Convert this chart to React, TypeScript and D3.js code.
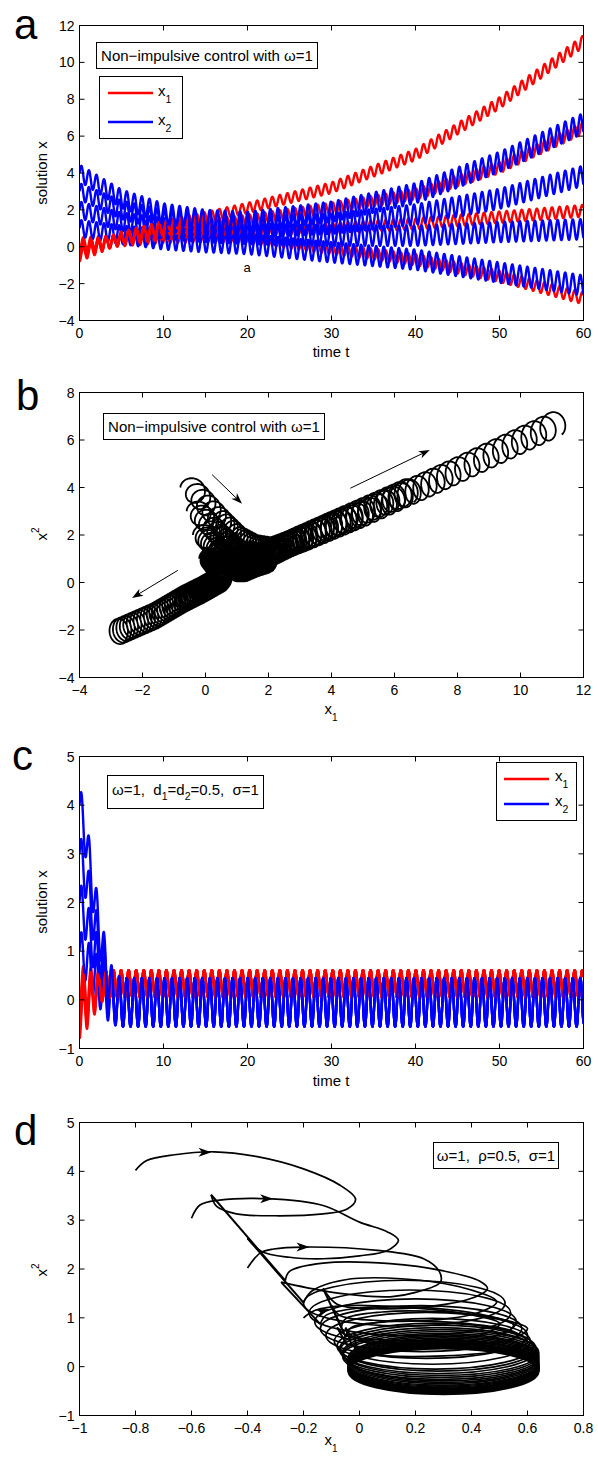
import React from "react";
import * as d3 from "d3";

const FONT = "'Liberation Sans', Arial, Helvetica, sans-serif";
const RED = "#ff0000";
const BLUE = "#0000ff";
const TICK_FS = 14;
const LABEL_FS = 15;
const BOX_FS = 15;

// ---------------- panels a & b : four trajectories (non-impulsive control) ----------------
const abTimes = [0, 5, 10, 15, 20, 30, 40, 50, 60];
const abX1Centres = [
  [-0.45, 0.5, 1.1, 1.6, 2.1, 3.2, 5.0, 7.8, 11.15],
  [-0.25, 0.45, 0.9, 1.2, 1.45, 2.1, 2.85, 4.3, 6.45],
  [-0.05, 0.4, 0.7, 0.85, 0.95, 1.0, 1.25, 1.6, 1.95],
  [0.15, 0.35, 0.5, 0.55, 0.5, -0.1, -0.7, -1.6, -2.8],
];
const abX2Centres = [
  [4.0, 2.6, 1.8, 1.45, 1.35, 1.9, 2.9, 4.6, 6.7],
  [3.0, 2.0, 1.45, 1.15, 1.05, 1.25, 1.75, 2.6, 3.85],
  [2.0, 1.35, 1.0, 0.8, 0.7, 0.6, 0.6, 0.8, 0.95],
  [1.0, 0.65, 0.4, 0.25, 0.15, -0.3, -0.7, -1.4, -2.1],
];
const abAmpTimes = [0, 10, 20, 60];
const abX1Amp = [0.35, 0.3, 0.28, 0.32];
const abX2Amp = [0.45, 0.55, 0.55, 0.55];
const oscPeriod = 0.9;

// ---------------- panel c : impulsive control, time series ----------------
const cTimes = [0, 0.5, 1, 1.5, 2, 2.5, 3, 3.5, 4, 5, 60];
const cX1Centres = [
  [-0.35, -0.25, -0.12, 0.0, 0.12, 0.22, 0.29, 0.32, 0.33, 0.33, 0.33],
  [-0.15, -0.08, 0.0, 0.08, 0.17, 0.24, 0.3, 0.32, 0.33, 0.33, 0.33],
  [0.05, 0.08, 0.12, 0.17, 0.22, 0.27, 0.3, 0.32, 0.33, 0.33, 0.33],
  [0.25, 0.24, 0.24, 0.25, 0.27, 0.29, 0.31, 0.32, 0.33, 0.33, 0.33],
];
const cX2Centres = [
  [4.0, 3.6, 3.05, 2.4, 1.8, 1.3, 0.8, 0.4, 0.1, -0.05, -0.05],
  [3.0, 2.7, 2.3, 1.8, 1.35, 0.95, 0.6, 0.3, 0.08, -0.05, -0.05],
  [2.0, 1.8, 1.5, 1.2, 0.9, 0.6, 0.35, 0.15, 0.0, -0.05, -0.05],
  [1.0, 0.9, 0.75, 0.6, 0.45, 0.3, 0.15, 0.05, -0.02, -0.05, -0.05],
];
const cX1Amp = [0.45, 0.45, 0.45, 0.4, 0.35, 0.3, 0.28, 0.28, 0.28, 0.28, 0.28];
const cX2Amp = [0.42, 0.45, 0.45, 0.47, 0.5, 0.5, 0.5, 0.5, 0.5, 0.5, 0.5];

// ---------------- panel d : phase portrait ----------------
const dFlowPieces: number[][][] = [
  [[-0.8, 4.02], [-0.76, 4.22], [-0.66, 4.34], [-0.52, 4.4], [-0.365, 4.3], [-0.2, 4.05], [-0.068, 3.71], [-0.014, 3.43], [-0.044, 3.23], [-0.13, 3.13], [-0.3, 3.09], [-0.44, 3.13], [-0.51, 3.28], [-0.53, 3.52]],
  [[-0.265, 1.76], [-0.25, 1.95], [-0.13, 2.12], [0.11, 2.11], [0.3, 1.96], [0.43, 1.75], [0.457, 1.6], [0.4, 1.4], [0.23, 1.22], [0.05, 1.19], [-0.08, 1.28], [-0.13, 1.6]],
  [[-0.065, 0.8], [-0.05, 0.98], [0.08, 1.12], [0.3, 1.12], [0.5, 0.98], [0.6, 0.78], [0.55, 0.58], [0.38, 0.45], [0.15, 0.42], [0.02, 0.5], [-0.02, 0.7]],
  [[-0.6, 3.04], [-0.57, 3.31], [-0.5, 3.41], [-0.33, 3.44], [-0.13, 3.3], [0.0, 2.96], [0.1, 2.76], [0.139, 2.59], [0.1, 2.38], [0.0, 2.27], [-0.13, 2.21], [-0.25, 2.24], [-0.35, 2.36], [-0.4, 2.63]],
  [[-0.2, 1.31], [-0.17, 1.55], [-0.05, 1.78], [0.15, 1.8], [0.38, 1.6], [0.49, 1.33], [0.42, 1.1], [0.25, 0.95], [0.05, 0.95], [-0.07, 1.05], [-0.1, 1.25]],
  [[-0.05, 0.62], [-0.03, 0.8], [0.1, 0.92], [0.35, 0.9], [0.55, 0.72], [0.6, 0.5], [0.5, 0.32], [0.3, 0.22], [0.1, 0.22], [0.0, 0.3], [-0.02, 0.45]],
  [[-0.4, 2.02], [-0.354, 2.33], [-0.307, 2.41], [-0.2, 2.45], [0.064, 2.38], [0.229, 2.21], [0.285, 1.95], [0.289, 1.73], [0.2, 1.52], [0.11, 1.43], [-0.07, 1.5], [-0.19, 1.62], [-0.28, 1.73]],
  [[-0.14, 0.87], [-0.12, 1.05], [0.0, 1.2], [0.2, 1.22], [0.45, 1.05], [0.55, 0.85], [0.5, 0.65], [0.3, 0.5], [0.1, 0.5], [-0.02, 0.6], [-0.05, 0.8]],
  [[-0.2, 1.0], [-0.16, 1.15], [-0.05, 1.25], [0.15, 1.22], [0.38, 1.08], [0.5, 0.88], [0.45, 0.68], [0.28, 0.55], [0.08, 0.55], [-0.05, 0.65], [-0.08, 0.8]],
];
const dJumps = [
  [-0.53, 3.52, -0.265, 1.76],
  [-0.4, 2.63, -0.2, 1.31],
  [-0.28, 1.73, -0.14, 0.87],
  [-0.13, 1.6, -0.065, 0.8],
  [-0.1, 1.25, -0.05, 0.62],
  [-0.05, 0.8, -0.025, 0.4],
  [-0.08, 0.8, -0.04, 0.4],
  [-0.02, 0.7, -0.01, 0.35],
  [-0.02, 0.45, -0.01, 0.22],
];
const dRingCx = [0.16, 0.18, 0.2, 0.22, 0.24, 0.26, 0.27, 0.28, 0.28, 0.29, 0.29, 0.29, 0.3, 0.3, 0.3, 0.3, 0.3, 0.3, 0.3, 0.3, 0.3, 0.3, 0.3, 0.3, 0.3, 0.3, 0.3, 0.3, 0.3];
const dRingCy = [1.3, 1.1, 0.92, 0.78, 0.64, 0.52, 0.42, 0.38, 0.33, 0.29, 0.25, 0.21, 0.18, 0.15, 0.12, 0.09, 0.07, 0.05, 0.03, 0.015, 0.0, -0.015, -0.03, -0.04, -0.05, -0.06, -0.07, -0.08, -0.1];
const dRingRx = [0.36, 0.36, 0.36, 0.36, 0.36, 0.35, 0.35, 0.35, 0.35, 0.35, 0.35, 0.35, 0.34, 0.34, 0.34, 0.34, 0.34, 0.34, 0.34, 0.34, 0.34, 0.34, 0.34, 0.34, 0.34, 0.34, 0.34, 0.34, 0.34];
const dRingRy = [0.47, 0.47, 0.47, 0.47, 0.47, 0.47, 0.47, 0.47, 0.47, 0.47, 0.47, 0.47, 0.47, 0.47, 0.47, 0.47, 0.47, 0.47, 0.47, 0.47, 0.47, 0.47, 0.47, 0.47, 0.47, 0.47, 0.47, 0.47, 0.47];
const dArrows = [
  [-0.55, 4.39, 0],
  [-0.33, 3.44, 0],
  [-0.2, 2.45, 0],
  [-0.13, 1.18, -20],
];

// arrows in b : [x1 start, x2 start, x1 end, x2 end]
const bArrows = [
  [0.21, 4.54, 1.16, 3.32],
  [-0.88, 0.51, -2.33, -0.65],
  [4.6, 3.97, 7.12, 5.58],
];

// ticks
const timeTicks = [0, 10, 20, 30, 40, 50, 60];
const aYTicks = [-4, -2, 0, 2, 4, 6, 8, 10, 12];
const bXTicks = [-4, -2, 0, 2, 4, 6, 8, 10, 12];
const bYTicks = [-4, -2, 0, 2, 4, 6, 8];
const cYTicks = [-1, 0, 1, 2, 3, 4, 5];
const dXTicks = [-1, -0.8, -0.6, -0.4, -0.2, 0, 0.2, 0.4, 0.6, 0.8];
const dYTicks = [-1, 0, 1, 2, 3, 4, 5];

// ---------------- helpers ----------------
const fmt = (v: number) => (v < 0 ? "\u2212" : "") + String(Math.abs(v));

type Pt = { t: number; x1: number; x2: number };

function sampleTrajectory(times: number[], c1: number[], c2: number[], ampT1: number[], a1: number[], ampT2: number[], a2: number[]): Pt[] {
  const s1 = d3.scaleLinear(times, c1);
  const s2 = d3.scaleLinear(times, c2);
  const sa1 = d3.scaleLinear(ampT1, a1);
  const sa2 = d3.scaleLinear(ampT2, a2);
  return d3.range(0, 60.0001, 0.02).map((t) => {
    const th = (2 * Math.PI * t) / oscPeriod;
    return { t, x1: s1(t) - sa1(t) * Math.cos(th), x2: s2(t) + sa2(t) * Math.sin(th) };
  });
}

const abData = abX1Centres.map((_, i) =>
  sampleTrajectory(abTimes, abX1Centres[i], abX2Centres[i], abAmpTimes, abX1Amp, abAmpTimes, abX2Amp)
);
const cData = cX1Centres.map((_, i) =>
  sampleTrajectory(cTimes, cX1Centres[i], cX2Centres[i], cTimes, cX1Amp, cTimes, cX2Amp)
);

const L = 79.5, R = 583.5;

function Frame({ xs, ys, xTicks, yTicks }: any) {
  const [l, r] = xs.range();
  const [b, t] = ys.range();
  const T = 5;
  return (
    <g>
      {xTicks.map((v: number) => (
        <g key={"x" + v}>
          <line x1={xs(v)} x2={xs(v)} y1={b} y2={b - T} stroke="#000" />
          <line x1={xs(v)} x2={xs(v)} y1={t} y2={t + T} stroke="#000" />
          <text x={xs(v)} y={b + 17.5} textAnchor="middle" fontSize={TICK_FS}>{fmt(v)}</text>
        </g>
      ))}
      {yTicks.map((v: number) => (
        <g key={"y" + v}>
          <line x1={l} x2={l + T} y1={ys(v)} y2={ys(v)} stroke="#000" />
          <line x1={r} x2={r - T} y1={ys(v)} y2={ys(v)} stroke="#000" />
          <text x={l - 5} y={ys(v) + 5} textAnchor="end" fontSize={TICK_FS}>{fmt(v)}</text>
        </g>
      ))}
      <rect x={l} y={t} width={r - l} height={b - t} fill="none" stroke="#000" />
    </g>
  );
}

function arrowHeadPath(tx: number, ty: number, ang: number, len: number, hw: number) {
  const c = Math.cos(ang), s = Math.sin(ang);
  const bx = tx - len * c, by = ty - len * s;
  const nx = tx - len * 0.72 * c, ny = ty - len * 0.72 * s;
  const px = -s, py = c;
  return `M${tx},${ty}L${bx + px * hw},${by + py * hw}L${nx},${ny}L${bx - px * hw},${by - py * hw}Z`;
}

function Letter({ x, y, ch }: any) {
  return <text x={x} y={y} fontSize={42} fontFamily={FONT}>{ch}</text>;
}

function YLabel({ x, y, children }: any) {
  return (
    <text transform={`translate(${x},${y}) rotate(-90)`} textAnchor="middle" fontSize={LABEL_FS}>{children}</text>
  );
}

// ---------------- panel a ----------------
function PanelA() {
  const top = 25, bottom = 320;
  const xs = d3.scaleLinear([0, 60], [L, R]);
  const ys = d3.scaleLinear([-4, 12], [bottom + 0.5, top + 0.5]);
  const l1 = d3.line<Pt>().x((d) => xs(d.t)).y((d) => ys(d.x1));
  const l2 = d3.line<Pt>().x((d) => xs(d.t)).y((d) => ys(d.x2));
  const order = [3, 2, 1, 0];
  return (
    <g>
      <defs>
        <clipPath id="clipA"><rect x={L} y={top + 0.5} width={R - L} height={bottom - top} /></clipPath>
      </defs>
      <g clipPath="url(#clipA)" fill="none" strokeWidth={2.4} strokeLinejoin="round">
        {order.map((i) => (
          <g key={i}>
            <path d={l1(abData[i]) || ""} stroke={RED} />
            <path d={l2(abData[i]) || ""} stroke={BLUE} />
          </g>
        ))}
      </g>
      <Frame xs={xs} ys={ys} xTicks={timeTicks} yTicks={aYTicks} />
      <rect x={96.5} y={42.5} width={221} height={26} fill="#fff" stroke="#000" />
      <text x={207} y={60.5} textAnchor="middle" fontSize={BOX_FS}>Non{"\u2212"}impulsive control with ω=1</text>
      <rect x={99.5} y={76.5} width={83} height={62} fill="#fff" stroke="#000" />
      <line x1={108} x2={153} y1={93} y2={93} stroke={RED} strokeWidth={2.4} />
      <line x1={108} x2={153} y1={122} y2={122} stroke={BLUE} strokeWidth={2.4} />
      <text x={158} y={96} fontSize={15}>x<tspan fontSize={10.5} dy={7}>1</tspan></text>
      <text x={158} y={125} fontSize={15}>x<tspan fontSize={10.5} dy={7}>2</tspan></text>
      <text x={247} y={272} textAnchor="middle" fontSize={13}>a</text>
      <YLabel x={47} y={173}>solution x</YLabel>
      <text x={331} y={356.5} textAnchor="middle" fontSize={LABEL_FS}>time t</text>
      <Letter x={14} y={38.5} ch="a" />
    </g>
  );
}

// ---------------- panel b ----------------
function PanelB() {
  const top = 392, bottom = 677;
  const xs = d3.scaleLinear([-4, 12], [L, R]);
  const ys = d3.scaleLinear([-4, 8], [bottom + 0.5, top + 0.5]);
  const ln = d3.line<Pt>().x((d) => xs(d.x1)).y((d) => ys(d.x2));
  return (
    <g>
      <defs>
        <clipPath id="clipB"><rect x={L} y={top + 0.5} width={R - L} height={bottom - top} /></clipPath>
      </defs>
      <g clipPath="url(#clipB)" fill="none" stroke="#000" strokeWidth={1.8} strokeLinejoin="round">
        {abData.map((d, i) => <path key={i} d={ln(d) || ""} />)}
      </g>
      {bArrows.map((a, i) => {
        const x0 = xs(a[0]), y0 = ys(a[1]), x1 = xs(a[2]), y1 = ys(a[3]);
        const ang = Math.atan2(y1 - y0, x1 - x0);
        return (
          <g key={i}>
            <line x1={x0} y1={y0} x2={x1 - 6 * Math.cos(ang)} y2={y1 - 6 * Math.sin(ang)} stroke="#000" strokeWidth={1} />
            <path d={arrowHeadPath(x1, y1, ang, 11, 4)} fill="#000" />
          </g>
        );
      })}
      <Frame xs={xs} ys={ys} xTicks={bXTicks} yTicks={bYTicks} />
      <rect x={103.5} y={413.5} width={221} height={26} fill="#fff" stroke="#000" />
      <text x={214} y={431.5} textAnchor="middle" fontSize={BOX_FS}>Non{"\u2212"}impulsive control with ω=1</text>
      <text transform="translate(47,534) rotate(-90)" textAnchor="middle" fontSize={LABEL_FS}>x<tspan fontSize={10} dy={-8}>2</tspan></text>
      <text x={331} y={714} textAnchor="middle" fontSize={LABEL_FS}>x<tspan fontSize={10} dy={7}>1</tspan></text>
      <Letter x={16} y={410} ch="b" />
    </g>
  );
}

// ---------------- panel c ----------------
function PanelC() {
  const top = 756, bottom = 1048;
  const xs = d3.scaleLinear([0, 60], [L, R]);
  const ys = d3.scaleLinear([-1, 5], [bottom + 0.5, top + 0.5]);
  const l1 = d3.line<Pt>().x((d) => xs(d.t)).y((d) => ys(d.x1));
  const l2 = d3.line<Pt>().x((d) => xs(d.t)).y((d) => ys(d.x2));
  const order = [3, 2, 1, 0];
  return (
    <g>
      <defs>
        <clipPath id="clipC"><rect x={L} y={top + 0.5} width={R - L} height={bottom - top} /></clipPath>
      </defs>
      <g clipPath="url(#clipC)" fill="none" strokeWidth={2.4} strokeLinejoin="round">
        {order.map((i) => (
          <g key={i}>
            <path d={l1(cData[i]) || ""} stroke={RED} />
            <path d={l2(cData[i]) || ""} stroke={BLUE} />
          </g>
        ))}
      </g>
      <Frame xs={xs} ys={ys} xTicks={timeTicks} yTicks={cYTicks} />
      <rect x={107.5} y={775.5} width={156} height={33} fill="#fff" stroke="#000" />
      <text x={185.5} y={795} textAnchor="middle" fontSize={BOX_FS} style={{ whiteSpace: "pre" }}>
        {"ω=1,  d"}<tspan fontSize={10.5} dy={5}>1</tspan><tspan dy={-5}>=d</tspan><tspan fontSize={10.5} dy={5}>2</tspan><tspan dy={-5}>{"=0.5,  σ=1"}</tspan>
      </text>
      <rect x={496.5} y={762.5} width={80} height={58} fill="#fff" stroke="#000" />
      <line x1={504} x2={549} y1={779} y2={779} stroke={RED} strokeWidth={2.4} />
      <line x1={504} x2={549} y1={804} y2={804} stroke={BLUE} strokeWidth={2.4} />
      <text x={555} y={781} fontSize={15}>x<tspan fontSize={10.5} dy={7}>1</tspan></text>
      <text x={555} y={806} fontSize={15}>x<tspan fontSize={10.5} dy={7}>2</tspan></text>
      <YLabel x={47} y={902}>solution x</YLabel>
      <text x={331} y={1085.5} textAnchor="middle" fontSize={LABEL_FS}>time t</text>
      <Letter x={12} y={770} ch="c" />
    </g>
  );
}

// ---------------- panel d ----------------
function PanelD() {
  const top = 1122, bottom = 1415;
  const xs = d3.scaleLinear([-1, 0.8], [L, R]);
  const ys = d3.scaleLinear([-1, 5], [bottom + 0.5, top + 0.5]);
  const ln = d3.line<number[]>().x((d) => xs(d[0])).y((d) => ys(d[1])).curve(d3.curveCatmullRom.alpha(0.5));
  return (
    <g>
      <defs>
        <clipPath id="clipD"><rect x={L} y={top + 0.5} width={R - L} height={bottom - top} /></clipPath>
      </defs>
      <g clipPath="url(#clipD)" fill="none" stroke="#000" strokeWidth={1.7} strokeLinejoin="round">
        {dRingCx.map((cx, i) => (
          <ellipse key={"r" + i} cx={xs(cx)} cy={ys(dRingCy[i])} rx={xs(cx + dRingRx[i]) - xs(cx)} ry={ys(dRingCy[i]) - ys(dRingCy[i] + dRingRy[i])} />
        ))}
        {dFlowPieces.map((p, i) => <path key={"p" + i} d={ln(p) || ""} />)}
        {dJumps.map((j, i) => (
          <line key={"j" + i} x1={xs(j[0])} y1={ys(j[1])} x2={xs(j[2])} y2={ys(j[3])} strokeWidth={2} />
        ))}
      </g>
      {dArrows.map((a, i) => (
        <path key={"a" + i} d={arrowHeadPath(xs(a[0]) + 6, ys(a[1]), (a[2] * Math.PI) / 180, 13, 4.5)} fill="#000" />
      ))}
      <Frame xs={xs} ys={ys} xTicks={dXTicks} yTicks={dYTicks} />
      <rect x={433.5} y={1142.5} width={125} height={26} fill="#fff" stroke="#000" />
      <text x={496} y={1160.5} textAnchor="middle" fontSize={BOX_FS} style={{ whiteSpace: "pre" }}>{"ω=1,  ρ=0.5,  σ=1"}</text>
      <text transform="translate(47,1270) rotate(-90)" textAnchor="middle" fontSize={LABEL_FS}>x<tspan fontSize={10} dy={-8}>2</tspan></text>
      <text x={331} y={1445} textAnchor="middle" fontSize={LABEL_FS}>x<tspan fontSize={10} dy={7}>1</tspan></text>
      <Letter x={14} y={1145} ch="d" />
    </g>
  );
}

export default function App() {
  return (
    <svg width={598} height={1461} style={{ position: "absolute", left: 0, top: 0, background: "#fff" }} fontFamily={FONT}>
      <rect width={598} height={1461} fill="#fff" />
      <PanelA />
      <PanelB />
      <PanelC />
      <PanelD />
    </svg>
  );
}
